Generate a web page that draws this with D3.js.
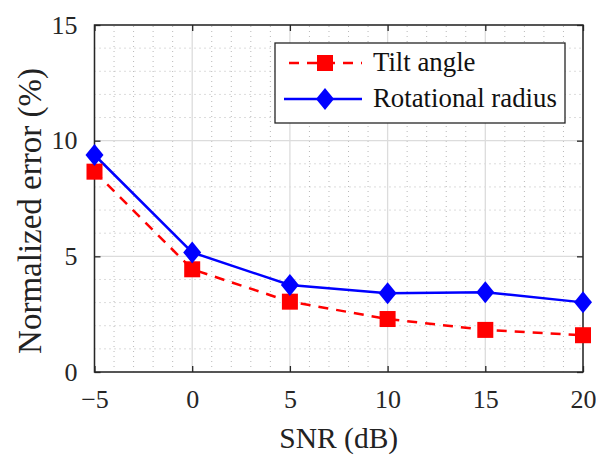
<!DOCTYPE html>
<html>
<head>
<meta charset="utf-8">
<title>Normalized error vs SNR</title>
<script src="https://cdn.jsdelivr.net/npm/d3@7"></script>
<style>
  body { margin: 0; background: #fff; }
  svg { display: block; font-family: "Liberation Serif", "DejaVu Serif", serif; }
</style>
</head>
<body>
<script>
// data
var snr = [-5, 0, 5, 10, 15, 20];
var tiltAngle = [8.66, 4.44, 3.04, 2.29, 1.82, 1.59];
var rotRadius = [9.38, 5.17, 3.76, 3.40, 3.45, 3.01];
var xTicks = [-5, 0, 5, 10, 15, 20];
var yTicks = [0, 5, 10, 15];
var seriesNames = ["Tilt angle", "Rotational radius"];

var W = 596, H = 457;
var m = {left: 94.5, right: 13, top: 25, bottom: 85};

var svg = d3.select("body").append("svg")
  .attr("width", W).attr("height", H);

var x = d3.scaleLinear().domain([-5, 20]).range([m.left, W - m.right]);
var y = d3.scaleLinear().domain([0, 15]).range([H - m.bottom, m.top]);

var grid = svg.append("g");

// minor grid (dotted)
grid.selectAll(".mx").data(d3.range(-5, 21, 1).filter(function (d) { return d % 5 != 0; }))
  .enter().append("line")
  .attr("x1", function (d) { return x(d); }).attr("x2", function (d) { return x(d); })
  .attr("y1", y(0)).attr("y2", y(15))
  .attr("stroke", "#b8b8b8").attr("stroke-width", 1).attr("stroke-dasharray", "1,4");
grid.selectAll(".my").data(d3.range(0, 16, 1).filter(function (d) { return d % 5 != 0; }))
  .enter().append("line")
  .attr("y1", function (d) { return y(d); }).attr("y2", function (d) { return y(d); })
  .attr("x1", x(-5)).attr("x2", x(20))
  .attr("stroke", "#b8b8b8").attr("stroke-width", 1).attr("stroke-dasharray", "1,4");

// major grid
grid.selectAll(".gx").data(xTicks).enter().append("line")
  .attr("x1", function (d) { return x(d); }).attr("x2", function (d) { return x(d); })
  .attr("y1", y(0)).attr("y2", y(15))
  .attr("stroke", "#dcdcdc").attr("stroke-width", 1.3);
grid.selectAll(".gy").data(yTicks).enter().append("line")
  .attr("y1", function (d) { return y(d); }).attr("y2", function (d) { return y(d); })
  .attr("x1", x(-5)).attr("x2", x(20))
  .attr("stroke", "#dcdcdc").attr("stroke-width", 1.3);

// axes with inward ticks
function styleAxis(g) {
  g.select(".domain").remove();
  g.selectAll(".tick line").attr("stroke", "#262626").attr("stroke-width", 1.3);
  g.selectAll(".tick text").attr("fill", "#262626").attr("font-size", "26px")
    .attr("font-family", "Liberation Serif, DejaVu Serif, serif");
}
var fmt = function (d) { return d < 0 ? "\u2212" + Math.abs(d) : d; };

svg.append("g").attr("transform", "translate(0," + y(0) + ")")
  .call(d3.axisBottom(x).tickValues(xTicks).tickFormat(fmt).tickSizeInner(-6).tickPadding(18))
  .call(styleAxis);
svg.append("g").attr("transform", "translate(0," + y(15) + ")")
  .call(d3.axisTop(x).tickValues(xTicks).tickFormat("").tickSizeInner(-6))
  .call(styleAxis);
svg.append("g").attr("transform", "translate(" + x(-5) + ",0)")
  .call(d3.axisLeft(y).tickValues(yTicks).tickSizeInner(-6).tickPadding(17))
  .call(styleAxis);
svg.append("g").attr("transform", "translate(" + x(20) + ",0)")
  .call(d3.axisRight(y).tickValues(yTicks).tickFormat("").tickSizeInner(-6))
  .call(styleAxis);

// box
svg.append("rect")
  .attr("x", x(-5)).attr("y", y(15))
  .attr("width", x(20) - x(-5)).attr("height", y(0) - y(15))
  .attr("fill", "none").attr("stroke", "#262626").attr("stroke-width", 1.5);

// series
var line = d3.line()
  .x(function (d) { return x(d[0]); })
  .y(function (d) { return y(d[1]); });

var tiltPts = d3.zip(snr, tiltAngle);
var radPts = d3.zip(snr, rotRadius);

svg.append("path").datum(tiltPts).attr("d", line)
  .attr("fill", "none").attr("stroke", "#ff0000").attr("stroke-width", 2.5)
  .attr("stroke-dasharray", "10,8");
svg.append("path").datum(radPts).attr("d", line)
  .attr("fill", "none").attr("stroke", "#0000ff").attr("stroke-width", 2.5);

var sq = 16;
svg.selectAll(".sq").data(tiltPts).enter().append("rect")
  .attr("x", function (d) { return x(d[0]) - sq / 2; })
  .attr("y", function (d) { return y(d[1]) - sq / 2; })
  .attr("width", sq).attr("height", sq).attr("fill", "#ff0000");

function diamond(cx, cy) {
  return "M" + cx + "," + (cy - 11) + "L" + (cx + 9) + "," + cy + "L" + cx + "," + (cy + 11) + "L" + (cx - 9) + "," + cy + "Z";
}
svg.selectAll(".dm").data(radPts).enter().append("path")
  .attr("d", function (d) { return diamond(x(d[0]), y(d[1])); })
  .attr("fill", "#0000ff");

// legend
var lg = svg.append("g");
lg.append("rect").attr("x", 275).attr("y", 43).attr("width", 290).attr("height", 80)
  .attr("fill", "#fff").attr("stroke", "#262626").attr("stroke-width", 1.3);

lg.append("line").attr("x1", 284).attr("x2", 362).attr("y1", 63).attr("y2", 63)
  .attr("stroke", "#ff0000").attr("stroke-width", 2.5).attr("stroke-dasharray", "10,8")
  .attr("stroke-dashoffset", -5);
lg.append("rect").attr("x", 325 - sq / 2).attr("y", 63 - sq / 2).attr("width", sq).attr("height", sq)
  .attr("fill", "#ff0000");
lg.append("line").attr("x1", 284).attr("x2", 362).attr("y1", 99).attr("y2", 99)
  .attr("stroke", "#0000ff").attr("stroke-width", 2.5);
lg.append("path").attr("d", diamond(325, 99)).attr("fill", "#0000ff");

lg.selectAll(".lt").data(seriesNames).enter().append("text")
  .attr("x", 373).attr("y", function (d, i) { return 71 + i * 36; })
  .attr("font-size", "26.8px").attr("fill", "#111")
  .text(function (d) { return d; });

// axis titles
svg.append("text").attr("x", (x(-5) + x(20)) / 2).attr("y", 448)
  .attr("text-anchor", "middle").attr("font-size", "29.5px").attr("fill", "#222")
  .text("SNR (dB)");
svg.append("text")
  .attr("transform", "translate(41,211) rotate(-90)")
  .attr("text-anchor", "middle").attr("font-size", "33px").attr("fill", "#222")
  .text("Normalized error (%)");
</script>
</body>
</html>
